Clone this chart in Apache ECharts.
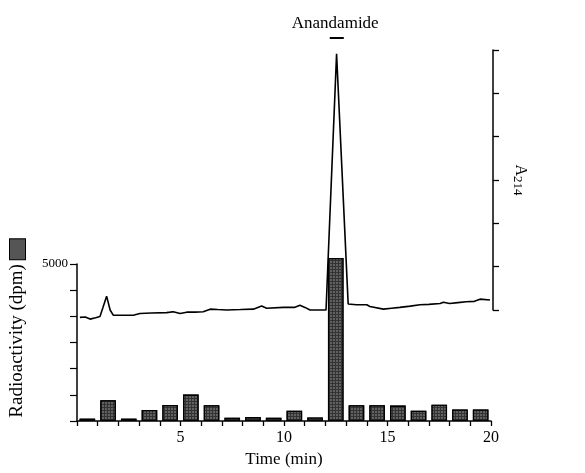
<!DOCTYPE html>
<html><head><meta charset="utf-8">
<script src="https://cdn.jsdelivr.net/npm/echarts@6/dist/echarts.min.js"></script>
<style>html,body{margin:0;padding:0;background:#fff}#c{width:585px;height:473px}</style>
</head><body><div id="c"></div>
<script>
// Radioactivity fractions (dpm), one per minute, centred at 0.5 ... 19.5 min
const fractionTime = [0.5,1.5,2.5,3.5,4.5,5.5,6.5,7.5,8.5,9.5,10.5,11.5,12.5,13.5,14.5,15.5,16.5,17.5,18.5,19.5];
const radioactivity = [75,660,75,350,510,840,500,105,125,105,330,115,5190,500,500,490,330,520,370,370];
// A214 absorbance trace (relative units on the right axis)
const traceTime = [0.14,0.4,0.63,0.9,1.11,1.25,1.43,1.6,1.75,2.2,2.72,3.04,3.6,4.33,4.5,4.65,4.98,5.30,5.7,6.10,6.43,6.8,7.23,7.9,8.52,8.92,9.16,9.97,10.5,10.77,11.01,11.26,11.7,12.03,12.54,13.1,13.5,14.0,14.15,14.8,15.2,15.6,16.1,16.57,17.0,17.54,17.7,18.0,18.4,18.8,19.2,19.47,19.95];
const traceA214 = [-0.17,-0.16,-0.21,-0.18,-0.15,0.05,0.32,0.0,-0.12,-0.12,-0.12,-0.08,-0.07,-0.06,-0.05,-0.04,-0.08,-0.05,-0.05,-0.04,0.02,0.01,0.0,0.01,0.02,0.09,0.04,0.06,0.06,0.11,0.06,0.0,0.0,0.0,5.91,0.14,0.12,0.12,0.08,0.02,0.04,0.06,0.09,0.12,0.13,0.15,0.18,0.15,0.17,0.19,0.2,0.25,0.23];
const xTickLabels = ['5','10','15','20'];
const markerTime = 12.55;

const serif = '"Liberation Serif","DejaVu Serif",serif';
const fill = {color:'#333', borderColor:'#000', borderWidth:1.3,
  decal:{symbol:'rect', symbolSize:0.7, dashArrayX:[2,1], dashArrayY:[2,1], color:'#8c8c8c', backgroundColor:'#333', rotation:0}};

const chart = echarts.init(document.getElementById('c'));
chart.setOption({
  animation:false,
  backgroundColor:'#fff',
  grid:[
    {left:77, right:94, top:264, height:157},
    {left:77, right:94, top:50, height:260}
  ],
  xAxis:[
    {gridIndex:0, type:'value', min:0, max:20, interval:1,
     axisLine:{onZero:false, lineStyle:{color:'#000',width:1.5}},
     axisTick:{length:5,lineStyle:{color:'#000',width:1.3}},
     axisLabel:{color:'#000', fontFamily:serif, fontSize:16, margin:9,
       formatter:v=>xTickLabels.includes(String(v))?String(v):''},
     splitLine:{show:false},
     name:'Time (min)', nameLocation:'middle', nameGap:30,
     nameTextStyle:{color:'#000', fontFamily:serif, fontSize:17}},
    {gridIndex:1, type:'value', min:0, max:20, show:false}
  ],
  yAxis:[
    {gridIndex:0, type:'value', min:0, max:5000, interval:5000/6,
     axisLine:{show:true, onZero:false, lineStyle:{color:'#000',width:1.5}},
     axisTick:{show:true, length:7, lineStyle:{color:'#000',width:1.2}},
     axisLabel:{color:'#000', fontFamily:serif, fontSize:13, margin:9,
       formatter:v=>Math.abs(v-5000)<1?'5000':''},
     splitLine:{show:false},
     name:'{t|Radioactivity (dpm)} {sq|}', nameLocation:'middle', nameGap:50, nameRotate:90,
     nameTextStyle:{color:'#000', fontFamily:serif, fontSize:19,
       rich:{t:{fontFamily:serif,fontSize:19,color:'#000',padding:[0,0,0,28]},
             sq:{width:20,height:15,backgroundColor:'#555',borderColor:'#000',borderWidth:1}}}},
    {gridIndex:1, type:'value', min:0, max:6, interval:1, position:'right', offset:2,
     axisLine:{show:true, onZero:false, lineStyle:{color:'#000',width:1.5}},
     axisTick:{show:true, length:6, lineStyle:{color:'#000',width:1.3}},
     axisLabel:{show:false}, splitLine:{show:false},
     name:'{a|A}{s|214}', nameLocation:'middle', nameGap:18, nameRotate:-90,
     nameTextStyle:{color:'#000', fontFamily:serif,
       rich:{a:{fontFamily:serif,fontSize:16,color:'#000'},
             s:{fontFamily:serif,fontSize:13,color:'#000',verticalAlign:'bottom',padding:[6,0,0,0]}}}}
  ],
  series:[
    {type:'bar', xAxisIndex:0, yAxisIndex:0, clip:false, barWidth:15.6,
     data:fractionTime.map((t,i)=>[t,radioactivity[i]]), itemStyle:fill},
    {type:'line', xAxisIndex:1, yAxisIndex:1, clip:false, symbol:'none', z:1,
     lineStyle:{color:'#000', width:1.6},
     data:traceTime.map((t,i)=>[t,traceA214[i]])}
  ]
});
const mx = chart.convertToPixel({xAxisIndex:0}, markerTime);
chart.setOption({graphic:[
  {type:'text', left:mx-45, top:15, style:{text:'Anandamide', font:'17px '+serif, fill:'#000'}},
  {type:'line', shape:{x1:mx-7, y1:38, x2:mx+7, y2:38}, style:{stroke:'#000', lineWidth:2}}
]});
</script></body></html>
